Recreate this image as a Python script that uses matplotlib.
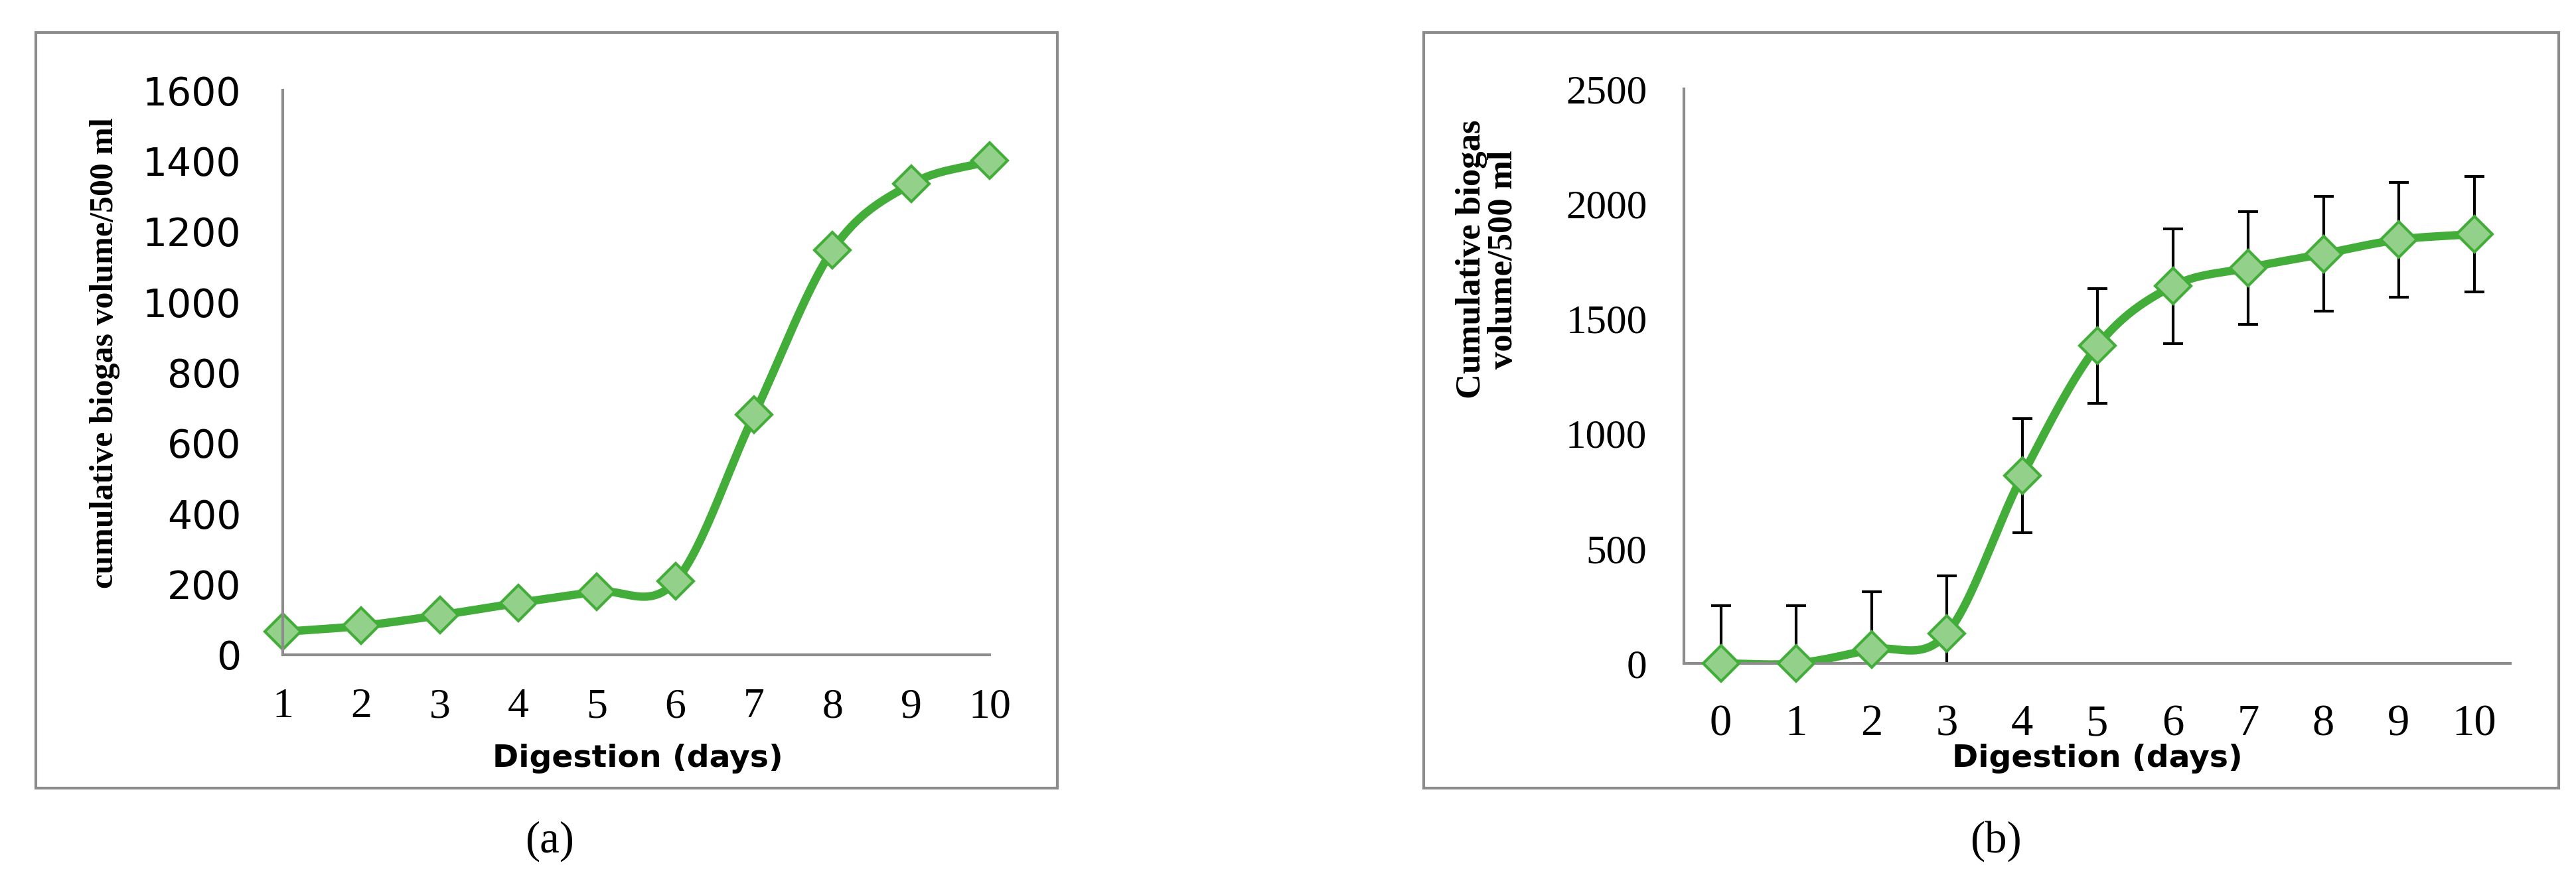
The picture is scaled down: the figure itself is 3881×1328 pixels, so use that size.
import numpy as np
import matplotlib.pyplot as plt
from matplotlib.patches import Rectangle

# panel (a)
days_a = [1, 2, 3, 4, 5, 6, 7, 8, 9, 10]
vol_a = [65, 82, 112, 147, 179, 208, 680, 1147, 1334, 1400]
# panel (b)
days_b = [0, 1, 2, 3, 4, 5, 6, 7, 8, 9, 10]
vol_b = [0, 0, 61, 130, 816, 1382, 1642, 1721, 1782, 1844, 1868]
err_b = [250, 250, 250, 250, 248, 250, 250, 245, 250, 250, 250]

W, H = 3881, 1328
LINE = '#43ad3a'
FILL = '#93d18b'
GREY = '#8c8c8c'


def smooth(x, y, n=30):
    # Catmull-Rom curve through the points, like Excel's smoothed line
    x = np.asarray(x, float)
    y = np.asarray(y, float)
    px = np.concatenate([[2 * x[0] - x[1]], x, [2 * x[-1] - x[-2]]])
    py = np.concatenate([[2 * y[0] - y[1]], y, [2 * y[-1] - y[-2]]])
    xs, ys = [], []
    t = np.linspace(0, 1, n)
    for i in range(1, len(px) - 2):
        for p, out in ((px, xs), (py, ys)):
            p0, p1, p2, p3 = p[i - 1], p[i], p[i + 1], p[i + 2]
            out.extend(0.5 * (2 * p1 + (-p0 + p2) * t + (2 * p0 - 5 * p1 + 4 * p2 - p3) * t ** 2
                              + (-p0 + 3 * p1 - 3 * p2 + p3) * t ** 3))
    return xs, ys


def box(x0, y0, x1, y1):
    return [x0 / W, 1 - y1 / H, (x1 - x0) / W, (y1 - y0) / H]


fig = plt.figure(figsize=(W / 100, H / 100), dpi=100)

for x0, x1 in ((54, 1593), (2145, 3855)):
    fig.patches.append(Rectangle((x0 / W, 1 - 1188 / H), (x1 - x0) / W, (1188 - 49) / H,
                                 transform=fig.transFigure, fill=False, ec=GREY, lw=3))


def style(ax):
    for s in ('top', 'right'):
        ax.spines[s].set_visible(False)
    for s in ('left', 'bottom'):
        ax.spines[s].set_color(GREY)
        ax.spines[s].set_linewidth(3)
    ax.tick_params(length=0)
    ax.patch.set_alpha(0)


ax1 = fig.add_axes(box(426, 136, 1491, 987))
style(ax1)
sx, sy = smooth(days_a, vol_a)
ax1.plot(sx, sy, color=LINE, lw=9, clip_on=False, solid_capstyle='round')
ax1.plot(days_a, vol_a, 'D', ms=27, mfc=FILL, mec=LINE, mew=3, clip_on=False)
ax1.set_xlim(1, 10)
ax1.set_ylim(0, 1600)
ax1.set_xticks(days_a)
ax1.set_yticks(range(0, 1601, 200))
ax1.tick_params(axis='y', pad=45, labelsize=42)
ax1.tick_params(axis='x', pad=36, labelsize=46)
for lb in ax1.get_yticklabels():
    lb.set_family('Liberation Sans Narrow')
for lb in ax1.get_xticklabels():
    lb.set_family('Liberation Serif')

ax2 = fig.add_axes(box(2537, 134, 3782, 1000))
style(ax2)
sx, sy = smooth(days_b, vol_b)
ax2.plot(sx, sy, color=LINE, lw=9, solid_capstyle='round')
ax2.errorbar(days_b, vol_b, yerr=err_b, fmt='none', ecolor='black', elinewidth=3,
             capsize=11, capthick=3)
ax2.plot(days_b, vol_b, 'D', ms=27, mfc=FILL, mec=LINE, mew=3, clip_on=False, zorder=5)
ax2.set_xlim(-0.49, 10.48)
ax2.set_ylim(0, 2500)
ax2.set_xticks(days_b)
ax2.set_yticks(range(0, 2501, 500))
ax2.tick_params(axis='y', pad=40, labelsize=44)
ax2.tick_params(axis='x', pad=44, labelsize=48)
for lb in ax2.get_xticklabels() + ax2.get_yticklabels():
    lb.set_family('Liberation Serif')

fig.text(158 / W, 1 - 532 / H, 'cumulative biogas volume/500 ml', rotation=90, ha='center',
         va='center', fontsize=36, fontweight='bold', family='Liberation Serif')
fig.text(2241 / W, 1 - 391 / H, 'Cumulative biogas\nvolume/500 ml', rotation=90, ha='center',
         va='center', fontsize=38, fontweight='bold', family='Liberation Serif', linespacing=1.0)
fig.text(961 / W, 1 - 1143 / H, 'Digestion (days)', ha='center', va='center', fontsize=34,
         fontweight='bold', family='Liberation Sans Narrow')
fig.text(3160 / W, 1 - 1143 / H, 'Digestion (days)', ha='center', va='center', fontsize=34,
         fontweight='bold', family='Liberation Sans Narrow')
fig.text(828 / W, 1 - 1268 / H, '(a)', ha='center', va='center', fontsize=48,
         family='Liberation Serif')
fig.text(3007 / W, 1 - 1268 / H, '(b)', ha='center', va='center', fontsize=48,
         family='Liberation Serif')

fig.savefig('out.png', dpi=100)
